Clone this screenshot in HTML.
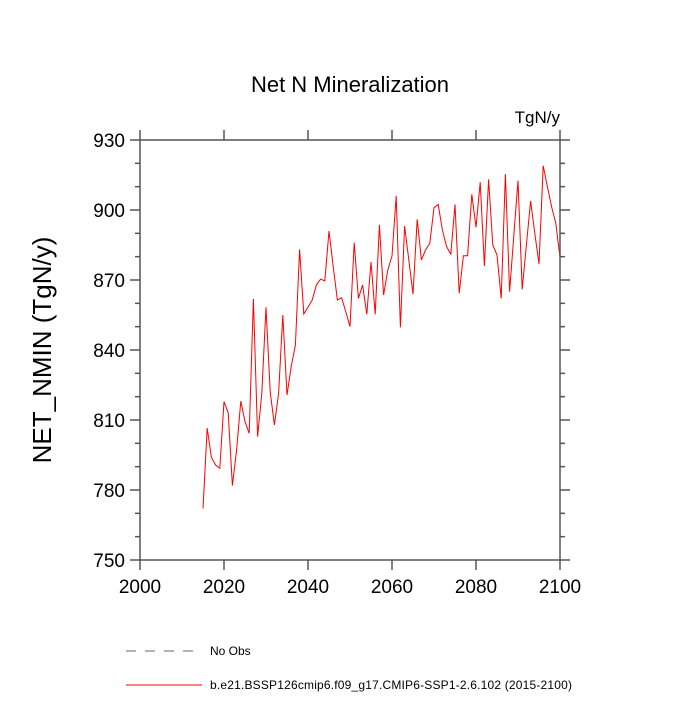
<!DOCTYPE html>
<html><head><meta charset="utf-8"><style>
body{margin:0;background:#fff;width:700px;height:700px;overflow:hidden}
text{font-family:"Liberation Sans",sans-serif}
</style></head><body>
<svg id="chart" width="700" height="700" xmlns="http://www.w3.org/2000/svg">
<text x="350" y="92" text-anchor="middle" font-size="22">Net N Mineralization</text>
<text x="560" y="123" text-anchor="end" font-size="17">TgN/y</text>
<text transform="translate(44,350) rotate(-90)" text-anchor="middle" dominant-baseline="middle" font-size="26">NET_NMIN  (TgN/y)</text>
<g id="axes"></g>
<path id="series" fill="none" stroke="#ff0000" stroke-width="1"/>
<rect x="140" y="140" width="420" height="420" fill="none" stroke="#555" stroke-width="1.5"/>
<line x1="126" y1="651" x2="202" y2="651" stroke="#666" stroke-dasharray="10,9"/>
<text x="210" y="655" font-size="12">No Obs</text>
<line x1="126" y1="685" x2="202" y2="685" stroke="#ff0000"/>
<text x="210" y="689" font-size="12" textLength="362">b.e21.BSSP126cmip6.f09_g17.CMIP6-SSP1-2.6.102 (2015-2100)</text>
</svg>
<script>
const years=[];for(let y=2015;y<=2100;y++)years.push(y);
const values=[772.1,806.5,794,790.7,789.3,817.9,813.1,781.9,797.1,818.1,809.3,804.3,861.9,802.9,821.4,858.3,822.1,807.9,821.4,855,820.7,832.9,842.1,883.1,855.4,858.3,861.4,867.9,870.4,869.6,891,875.7,861.4,862.4,856.4,850,886,862.1,867.9,855.3,877.7,855.3,893.6,863.6,874.3,880.3,906.1,849.7,893.1,878.6,863.9,896,878.6,882.9,885.7,901,902.4,891.4,884.3,881.1,902.4,864.3,880.4,880.4,906.7,892.6,911.9,876,913.1,885,880.7,862.1,915.4,865,889,912.6,866,885,903.9,890,876.9,919,910,901.4,894.3,879.7];
const xTicks=[2000,2020,2040,2060,2080,2100];
const yTicks=[750,780,810,840,870,900,930];
const X=v=>140+(v-2000)/100*420, Y=v=>560-(v-750)/180*420;
document.getElementById('series').setAttribute('d',years.map((y,i)=>(i?'L':'M')+X(y).toFixed(2)+','+Y(values[i]).toFixed(2)).join(''));
const g=document.getElementById('axes');const NS='http://www.w3.org/2000/svg';
function ln(x1,y1,x2,y2,name){const l=document.createElementNS(NS,'line');l.setAttribute('x1',x1);l.setAttribute('y1',y1);l.setAttribute('x2',x2);l.setAttribute('y2',y2);l.setAttribute('stroke','#555');l.setAttribute('stroke-width','1.5');


g.appendChild(l);}
function tx(x,y,s,anchor,name){const t=document.createElementNS(NS,'text');t.setAttribute('x',x);t.setAttribute('y',y);t.setAttribute('text-anchor',anchor);t.setAttribute('font-size','19');t.textContent=s;


g.appendChild(t);}
xTicks.forEach(v=>{ln(X(v),560,X(v),570,'x-tick');ln(X(v),140,X(v),130,'x-tick-top');});
for(let v=750;v<=930;v+=10){const big=(v-750)%30===0,L=big?10:5;ln(140,Y(v),140-L,Y(v),'y-tick');ln(560,Y(v),560+L,Y(v),'y-tick-right');}
xTicks.forEach(v=>tx(X(v),593,v,'middle','x-tick-label'));
yTicks.forEach(v=>tx(125,Y(v)+7,v,'end','y-tick-label'));
</script>
</body></html>
